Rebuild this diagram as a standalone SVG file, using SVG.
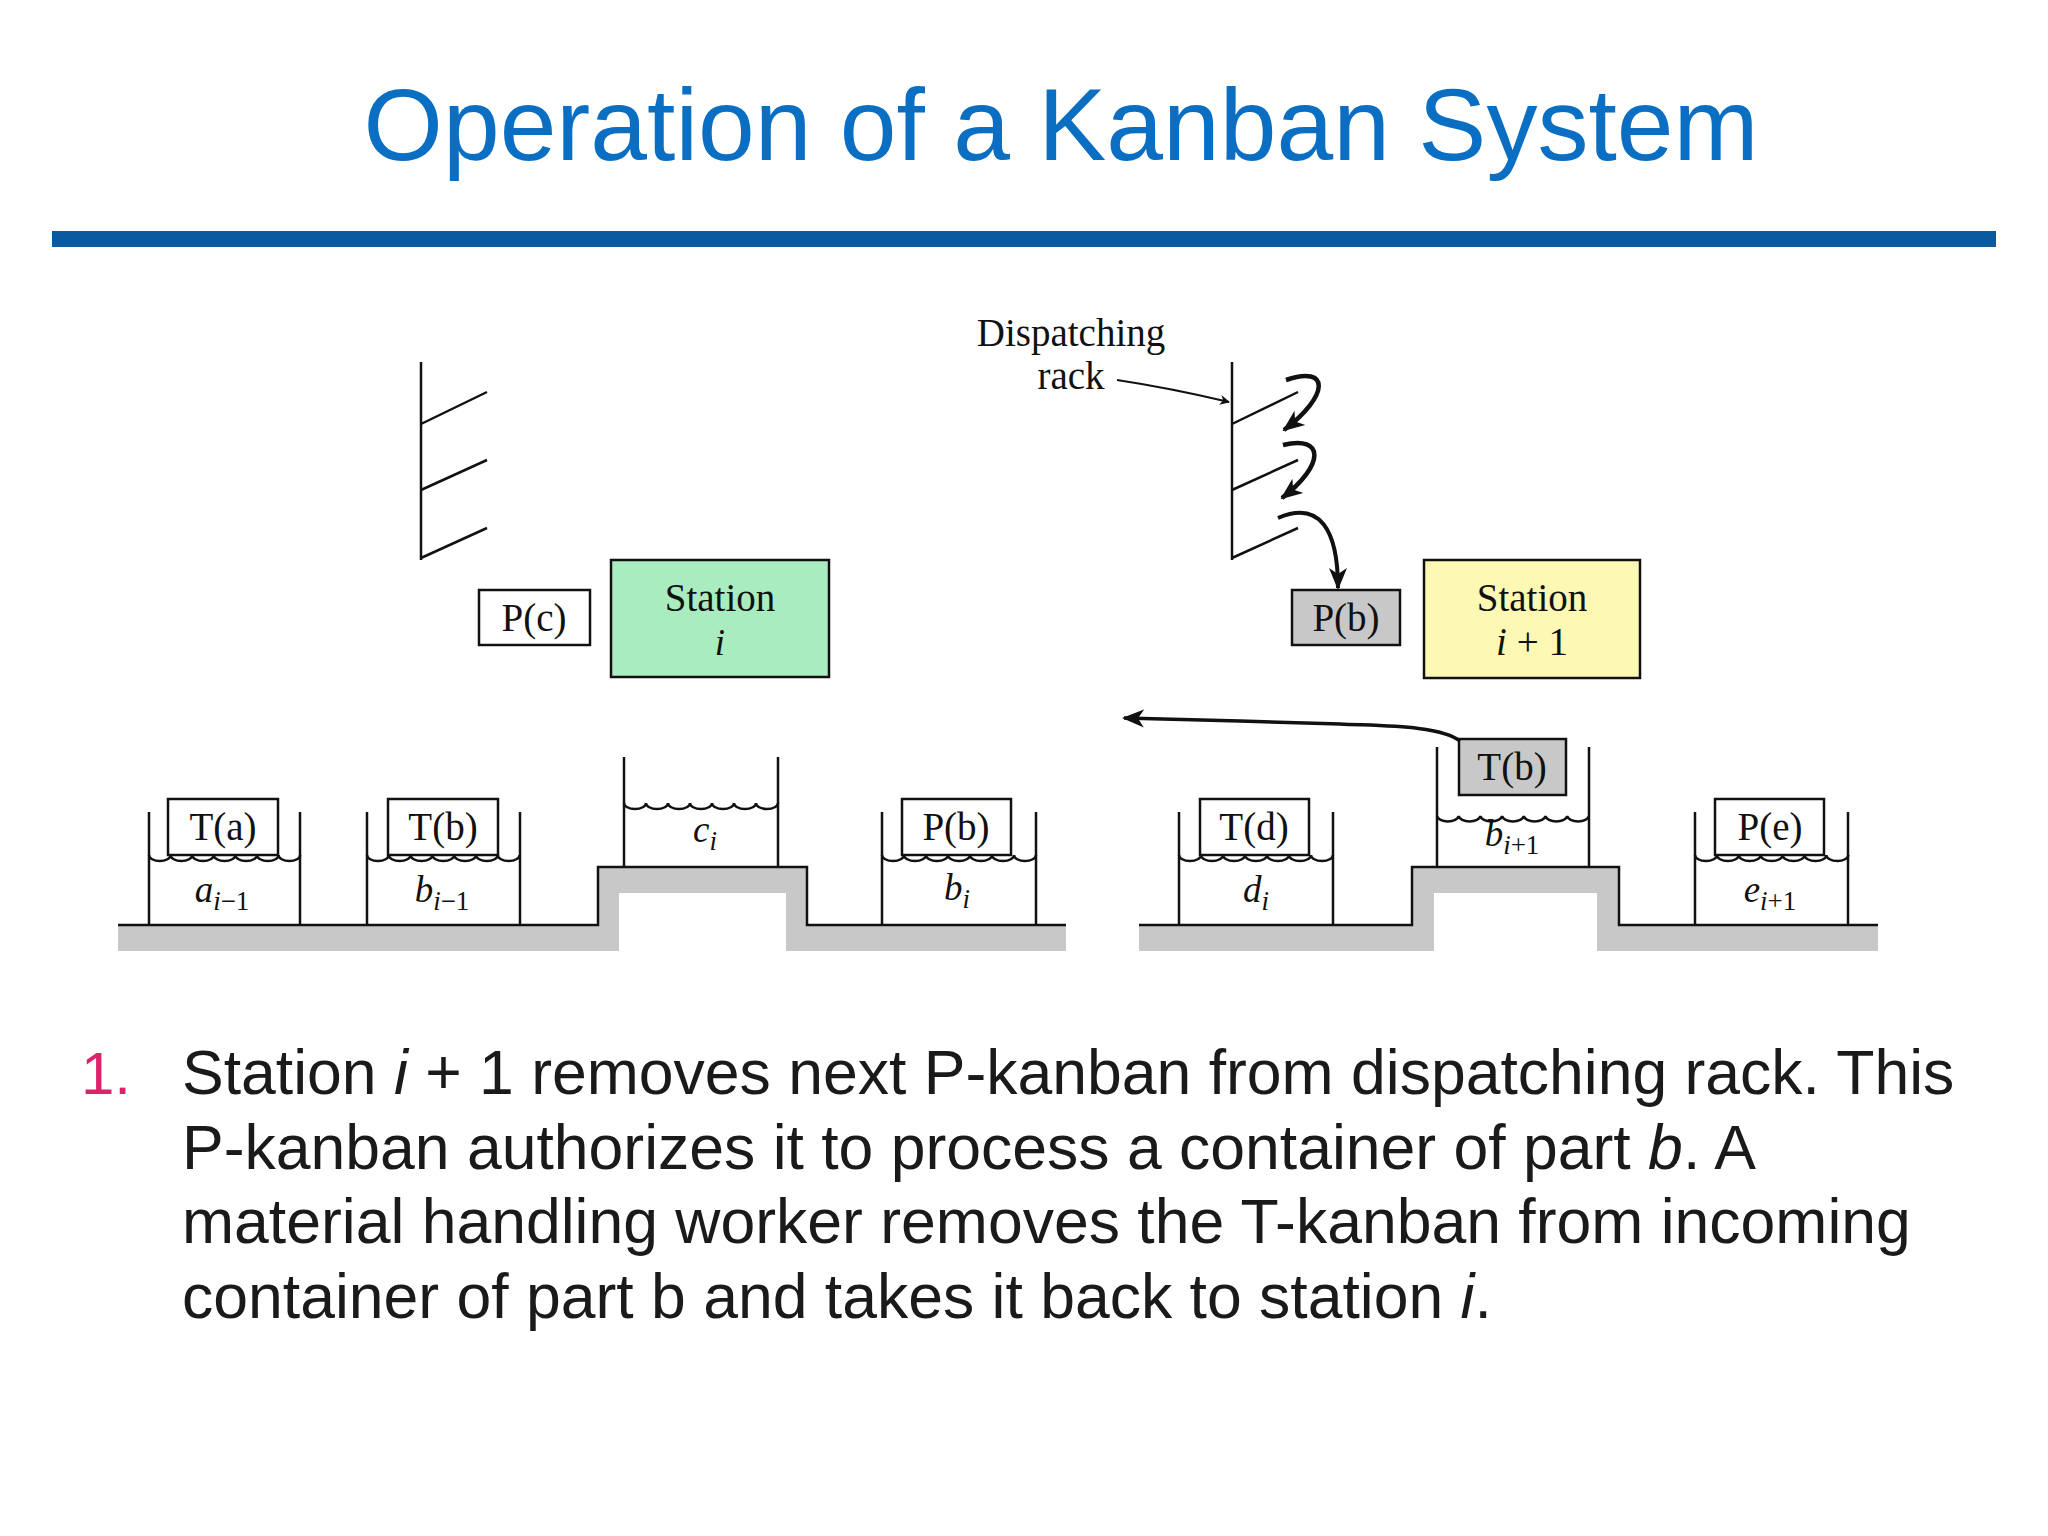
<svg xmlns="http://www.w3.org/2000/svg" width="2048" height="1536" viewBox="0 0 2048 1536">
<style>
.ln{fill:none;stroke:#111;stroke-width:2.5}
.box{stroke:#111;stroke-width:2.5}
.t{font-family:"Liberation Serif",serif;font-size:39px;fill:#111;text-anchor:middle}
.m{font-family:"Liberation Serif",serif;font-style:italic;font-size:37px;fill:#111;text-anchor:middle}
.s{font-size:27px;font-style:normal}
.si{font-size:27px}
.gr{fill:#c8c8c8}
.body{font-family:"Liberation Sans",Arial,sans-serif;font-size:62.5px;fill:#1a1a1a}
</style>
<defs>
<marker id="ah" markerWidth="10" markerHeight="10" refX="9" refY="5" orient="auto" markerUnits="userSpaceOnUse" viewBox="0 0 10 10"><path d="M0,0 L10,5 L0,10 L3,5 z" fill="#111"/></marker>
<marker id="ahb" markerWidth="22" markerHeight="22" refX="20" refY="11" orient="auto" markerUnits="userSpaceOnUse" viewBox="0 0 22 22"><path d="M0,2 L22,11 L0,20 L6,11 z" fill="#111"/></marker>
</defs>
<rect width="2048" height="1536" fill="#fff"/>
<text x="1061" y="160" font-family="Liberation Sans,Arial,sans-serif" font-size="102" fill="#0a6fc2" text-anchor="middle">Operation of a Kanban System</text>
<rect x="52" y="231" width="1944" height="16" fill="#0a5aa0"/>

<g id="ground-left">
<path class="gr" d="M118,925 H598 V867 H807 V925 H1066 V951 H786 V893 H619 V951 H118 z"/>
<path class="ln" d="M118,925 H598 V867 H807 V925 H1066"/>
</g>
<g id="ground-right">
<path class="gr" d="M1139,925 H1412 V867 H1619 V925 H1878 V951 H1597 V893 H1434 V951 H1139 z"/>
<path class="ln" d="M1139,925 H1412 V867 H1619 V925 H1878"/>
</g>

<g id="rack-left">
<path class="ln" d="M421,362 V560 M421,424 L487,392 M421,490 L487,460 M421,558 L487,528"/>
</g>
<g id="rack-right">
<path class="ln" d="M1232,362 V560 M1232,424 L1298,392 M1232,490 L1298,460 M1232,558 L1298,528"/>
</g>

<g id="dispatch-label">
<text class="t" x="1071" y="346">Dispatching</text>
<text class="t" x="1071" y="389">rack</text>
</g>

<g id="pc"><rect class="box" x="479" y="590" width="111" height="55" fill="#fff"/><text class="t" x="534" y="631">P(c)</text></g>
<g id="station-i"><rect class="box" x="611" y="560" width="218" height="117" fill="#a9ecc0"/><text class="t" x="720" y="611">Station</text><text class="m" x="720" y="655">i</text></g>
<g id="pb-top"><rect class="box" x="1292" y="590" width="108" height="55" fill="#c8c8c8"/><text class="t" x="1346" y="631">P(b)</text></g>
<g id="station-i1"><rect class="box" x="1424" y="560" width="216" height="118" fill="#fdf8b4"/><text class="t" x="1532" y="611">Station</text><text class="t" x="1532" y="655"><tspan font-style="italic">i</tspan> + 1</text></g>

<g id="bin-a">
<path class="ln" d="M149,812 V925 M300,812 V925"/>
<path class="ln" d="M149,855 a10.8 6 0 0 0 21.6 0 a10.8 6 0 0 0 21.6 0 a10.8 6 0 0 0 21.6 0 a10.8 6 0 0 0 21.6 0 a10.8 6 0 0 0 21.6 0 a10.8 6 0 0 0 21.6 0 a10.8 6 0 0 0 21.6 0"/>
<rect class="box" x="168" y="799" width="110" height="56" fill="#fff"/><text class="t" x="223" y="840">T(a)</text>
<text class="m" x="222" y="902">a<tspan class="si" dy="8">i</tspan><tspan class="s">−1</tspan></text>
</g>
<g id="bin-b1">
<path class="ln" d="M367,812 V925 M520,812 V925"/>
<path class="ln" d="M367,855 a10.9 6 0 0 0 21.8 0 a10.9 6 0 0 0 21.8 0 a10.9 6 0 0 0 21.8 0 a10.9 6 0 0 0 21.8 0 a10.9 6 0 0 0 21.8 0 a10.9 6 0 0 0 21.8 0 a10.9 6 0 0 0 21.8 0"/>
<rect class="box" x="388" y="799" width="110" height="56" fill="#fff"/><text class="t" x="443" y="840">T(b)</text>
<text class="m" x="442" y="902">b<tspan class="si" dy="8">i</tspan><tspan class="s">−1</tspan></text>
</g>
<g id="bin-c">
<path class="ln" d="M624,757 V867 M778,757 V867"/>
<path class="ln" d="M624,803 a11 6 0 0 0 22 0 a11 6 0 0 0 22 0 a11 6 0 0 0 22 0 a11 6 0 0 0 22 0 a11 6 0 0 0 22 0 a11 6 0 0 0 22 0 a11 6 0 0 0 22 0"/>
<text class="m" x="705" y="842">c<tspan class="si" dy="8">i</tspan></text>
</g>
<g id="bin-pb">
<path class="ln" d="M882,812 V925 M1036,812 V925"/>
<path class="ln" d="M882,855 a11 6 0 0 0 22 0 a11 6 0 0 0 22 0 a11 6 0 0 0 22 0 a11 6 0 0 0 22 0 a11 6 0 0 0 22 0 a11 6 0 0 0 22 0 a11 6 0 0 0 22 0"/>
<rect class="box" x="902" y="799" width="109" height="56" fill="#fff"/><text class="t" x="956" y="840">P(b)</text>
<text class="m" x="957" y="900">b<tspan class="si" dy="8">i</tspan></text>
</g>
<g id="bin-d">
<path class="ln" d="M1179,812 V925 M1333,812 V925"/>
<path class="ln" d="M1179,855 a11 6 0 0 0 22 0 a11 6 0 0 0 22 0 a11 6 0 0 0 22 0 a11 6 0 0 0 22 0 a11 6 0 0 0 22 0 a11 6 0 0 0 22 0 a11 6 0 0 0 22 0"/>
<rect class="box" x="1200" y="799" width="109" height="56" fill="#fff"/><text class="t" x="1254" y="840">T(d)</text>
<text class="m" x="1256" y="902">d<tspan class="si" dy="8">i</tspan></text>
</g>
<g id="bin-b2">
<path class="ln" d="M1437,747 V867 M1589,747 V867"/>
<path class="ln" d="M1437,816 a10.9 6 0 0 0 21.7 0 a10.9 6 0 0 0 21.7 0 a10.9 6 0 0 0 21.7 0 a10.9 6 0 0 0 21.7 0 a10.9 6 0 0 0 21.7 0 a10.9 6 0 0 0 21.7 0 a10.9 6 0 0 0 21.7 0"/>
<rect class="box" x="1459" y="739" width="107" height="56" fill="#c8c8c8"/><text class="t" x="1512" y="780">T(b)</text>
<text class="m" x="1512" y="846">b<tspan class="si" dy="8">i</tspan><tspan class="s">+1</tspan></text>
</g>
<g id="bin-e">
<path class="ln" d="M1695,812 V925 M1848,812 V925"/>
<path class="ln" d="M1695,855 a10.9 6 0 0 0 21.9 0 a10.9 6 0 0 0 21.9 0 a10.9 6 0 0 0 21.9 0 a10.9 6 0 0 0 21.9 0 a10.9 6 0 0 0 21.9 0 a10.9 6 0 0 0 21.9 0 a10.9 6 0 0 0 21.9 0"/>
<rect class="box" x="1715" y="799" width="109" height="56" fill="#fff"/><text class="t" x="1770" y="840">P(e)</text>
<text class="m" x="1770" y="902">e<tspan class="si" dy="8">i</tspan><tspan class="s">+1</tspan></text>
</g>

<g id="connectors">
<path d="M1117,380 Q1170,388 1229,402" fill="none" stroke="#111" stroke-width="2" marker-end="url(#ah)"/>
<path d="M1286,380 C1330,365 1330,395 1284,430" fill="none" stroke="#111" stroke-width="4.5" marker-end="url(#ahb)"/>
<path d="M1283,445 C1325,435 1325,465 1282,498" fill="none" stroke="#111" stroke-width="4.5" marker-end="url(#ahb)"/>
<path d="M1278,518 C1320,500 1338,530 1338,588" fill="none" stroke="#111" stroke-width="4" marker-end="url(#ahb)"/>
<path d="M1460,741 C1440,725 1380,726 1340,724 L1240,721 L1124,718" fill="none" stroke="#111" stroke-width="3.5" marker-end="url(#ahb)"/>
</g>

<g id="caption">
<text x="81" y="1094" font-family="Liberation Sans,Arial,sans-serif" font-size="60" fill="#e0206a">1.</text>
<text class="body" x="182" y="1094">Station <tspan font-style="italic">i</tspan> + 1 removes next P-kanban from dispatching rack. This</text>
<text class="body" x="182" y="1169">P-kanban authorizes it to process a container of part <tspan font-style="italic">b</tspan>. A</text>
<text class="body" x="182" y="1243">material handling worker removes the T-kanban from incoming</text>
<text class="body" x="182" y="1318">container of part b and takes it back to station <tspan font-style="italic">i</tspan>.</text>
</g>
</svg>
